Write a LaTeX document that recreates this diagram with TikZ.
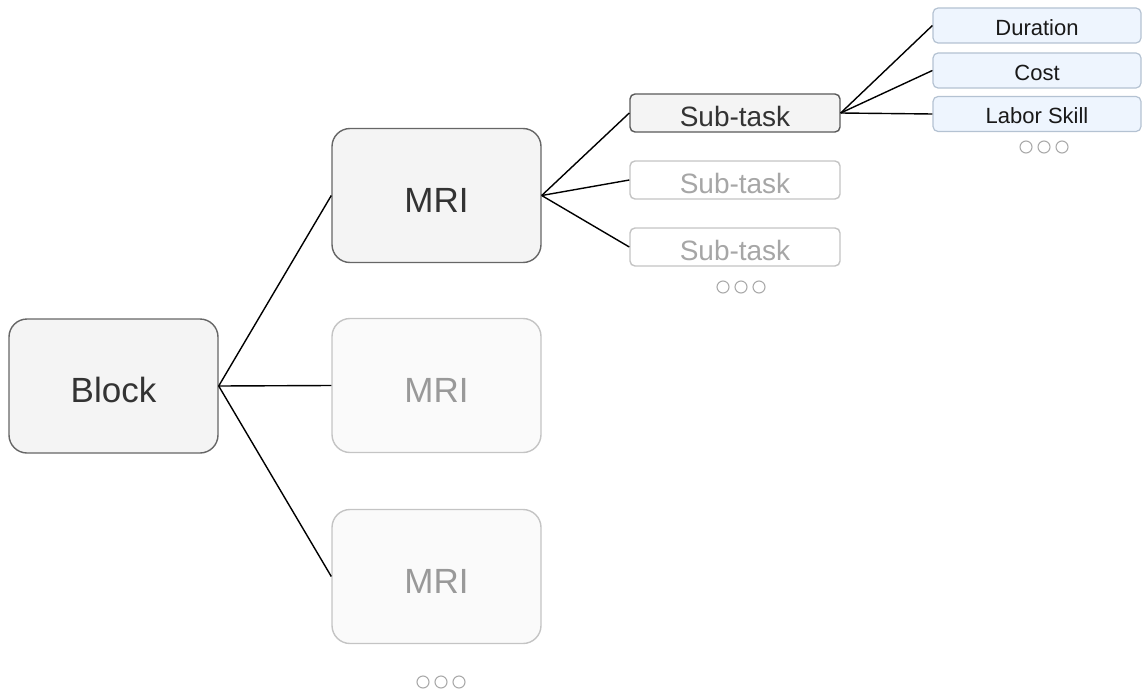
\documentclass[tikz,border=0pt]{standalone}
\usepackage{fontspec}
\setmainfont{Liberation Sans}
\definecolor{boxfill}{HTML}{F4F4F4}
\definecolor{boxdraw}{HTML}{666666}
\definecolor{fadefill}{HTML}{FAFAFA}
\definecolor{fadedraw}{HTML}{C4C4C4}
\definecolor{fadetext}{HTML}{999999}
\definecolor{attrfill}{HTML}{EEF5FE}
\definecolor{attrdraw}{HTML}{B4C2D2}
\definecolor{dottext}{HTML}{AAAAAA}
\tikzset{
  bigbox/.style={draw=boxdraw, fill=boxfill, line width=1.4pt, rounded corners=18pt,
    minimum width=209pt, minimum height=134pt, inner sep=0pt, text=black!80,
    font=\fontsize{35}{40}\selectfont, text height=33pt, text depth=0pt},
  bigfade/.style={bigbox, draw=fadedraw, fill=fadefill, text=fadetext},
  subbox/.style={draw=black!65, fill=boxfill, line width=1.4pt, rounded corners=5pt,
    minimum width=210pt, minimum height=38pt, inner sep=0pt, text=black!80,
    font=\fontsize{28}{30}\selectfont, text height=26pt, text depth=0pt},
  subfade/.style={subbox, draw=fadedraw, fill=white, text=black!35},
  attrbox/.style={draw=attrdraw, fill=attrfill, line width=1.2pt, rounded corners=5pt,
    minimum width=208pt, minimum height=35pt, inner sep=0pt, text=black!90,
    font=\fontsize{22}{26}\selectfont, text height=19.5pt, text depth=0pt},
  conn/.style={line width=1.4pt, black},
  dot/.style={circle, draw=dottext, line width=1.1pt, minimum size=12pt, inner sep=0pt}
}
\begin{document}
\begin{tikzpicture}[x=1pt, y=-1pt]
\useasboundingbox (0,0) rectangle (1143,693);
\node[bigbox] (block) at (113.5,386) {Block};
\node[bigbox] (mri1) at (436.5,195.5) {MRI};
\node[bigfade] (mri2) at (436.5,385.5) {MRI};
\node[bigfade] (mri3) at (436.5,576.5) {MRI};
\node[subbox] (st1) at (735,113) {Sub-task};
\node[subfade] (st2) at (735,180) {Sub-task};
\node[subfade] (st3) at (735,247) {Sub-task};
\node[attrbox] (dur) at (1037,25.5) {Duration};
\node[attrbox] (cost) at (1037,70.5) {Cost};
\node[attrbox] (labor) at (1037,114) {Labor Skill};
% dots
\node[dot] (d1a) at (423,682) {};
\node[dot] (d1b) at (441,682) {};
\node[dot] (d1c) at (459,682) {};
\node[dot] (d2a) at (723,287) {};
\node[dot] (d2b) at (741,287) {};
\node[dot] (d2c) at (759,287) {};
\node[dot] (d3a) at (1026,147) {};
\node[dot] (d3b) at (1044,147) {};
\node[dot] (d3c) at (1062,147) {};
% connectors
\draw[conn] (block.east) -- (mri1.west);
\draw[conn] (block.east) -- (mri2.west);
\draw[conn] (block.east) -- (mri3.west);
\draw[conn] (mri1.east) -- (st1.west);
\draw[conn] (mri1.east) -- (st2.west);
\draw[conn] (mri1.east) -- (st3.west);
\draw[conn] (st1.east) -- (dur.west);
\draw[conn] (st1.east) -- (cost.west);
\draw[conn] (st1.east) -- (labor.west);
\end{tikzpicture}
\end{document}
